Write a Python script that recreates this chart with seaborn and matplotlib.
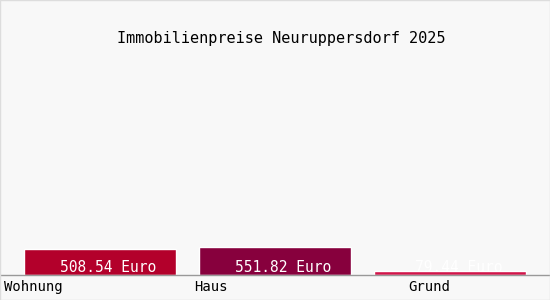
import matplotlib
matplotlib.use("Agg")
import matplotlib.pyplot as plt
import seaborn as sns
import pandas as pd
from matplotlib.patches import Rectangle

categories = ["Wohnung", "Haus", "Grund"]
values = [508.54, 551.82, 79.44]
colors = ["#b3002b", "#87003d", "#d2154a"]
title = "Immobilienpreise Neuruppersdorf 2025"

df = pd.DataFrame({"Kategorie": categories, "Preis": values})

sns.set_theme(style="white")
plt.rcParams["font.family"] = ["DejaVu Sans Mono"]

bg = "#f8f8f8"
fig = plt.figure(figsize=(5.5, 3.0), dpi=100, facecolor=bg)
ax = fig.add_axes([0, 25.3 / 300, 1, 1 - 25.3 / 300])
ax.set_facecolor(bg)

sns.barplot(data=df, x="Kategorie", y="Preis", hue="Kategorie",
            palette=colors, width=0.87, saturation=1, legend=False, ax=ax)

ax.set_xlim(-0.571, 2.571)
ax.set_ylim(0, 5425)

for i, v in enumerate(values):
    ax.annotate(f"{v:.2f} Euro", xy=(i, 0), xytext=(6, 5.2),
                textcoords="offset points", ha="center", va="center",
                color="white", fontsize=10.5, clip_on=True)

for s in ["top", "right", "left"]:
    ax.spines[s].set_visible(False)
ax.spines["bottom"].set_color("#999999")
ax.spines["bottom"].set_linewidth(1)
ax.set_yticks([])
ax.set_xlabel("")
ax.set_ylabel("")

# category labels (left aligned under the axis)
label_pos = [-0.549, 0.537, 1.76]
ax.set_xticks(label_pos)
ax.set_xticklabels(categories, ha="left", fontsize=10, color="black")
ax.tick_params(axis="x", length=0, pad=4)

fig.text(0.512, 1 - 38 / 300, title, ha="center", va="center",
         fontsize=11, color="black")

fig.patches.append(Rectangle((0, 0), 1, 1, transform=fig.transFigure,
                             fill=False, edgecolor="#dddddd", linewidth=1))

fig.savefig("out.png", dpi=100, facecolor=bg)
